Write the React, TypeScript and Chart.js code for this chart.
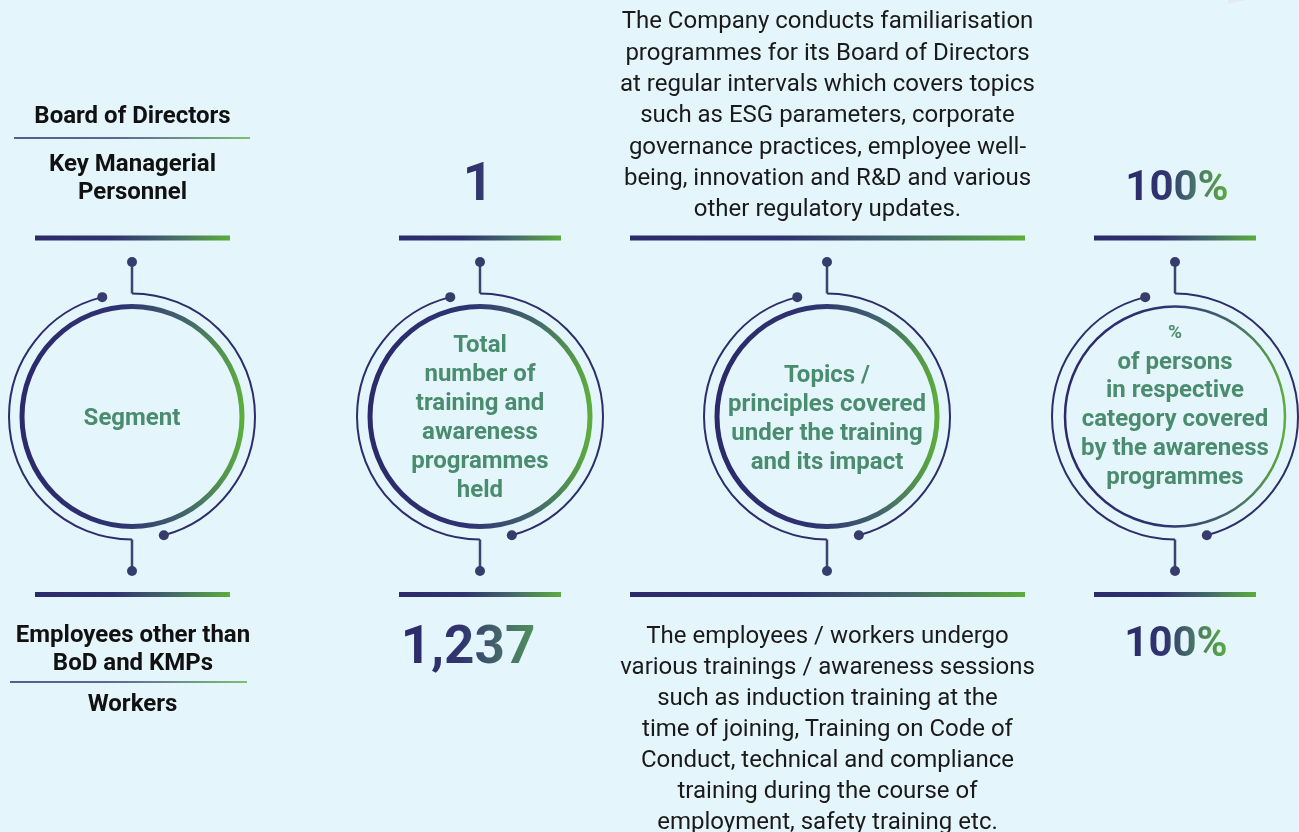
import React, { useEffect, useRef } from "react";
import { Chart, registerables } from "chart.js";

Chart.register(...registerables);

// ---------- data ----------
const segmentTop = ["Board of Directors", "Key Managerial\nPersonnel"];
const segmentBottom = ["Employees other than\nBoD and KMPs", "Workers"];
const columnTitles = [
  "Segment",
  "Total\nnumber of\ntraining and\nawareness\nprogrammes\nheld",
  "Topics /\nprinciples covered\nunder the training\nand its impact",
  "%\nof persons\nin respective\ncategory covered\nby the awareness\nprogrammes",
];
const programmesHeld = ["1", "1,237"];
const topicsCovered = [
  "The Company conducts familiarisation\nprogrammes for its Board of Directors\nat regular intervals which covers topics\nsuch as ESG parameters, corporate\ngovernance practices, employee well-\nbeing, innovation and R&D and various\nother regulatory updates.",
  "The employees / workers undergo\nvarious trainings / awareness sessions\nsuch as induction training at the\ntime of joining, Training on Code of\nConduct, technical and compliance\ntraining during the course of\nemployment, safety training etc.",
];
const personsCovered = ["100%", "100%"];

// ---------- layout / style ----------
const W = 1299;
const H = 832;
const BG = "#e5f5fc";
const NAVY = "#2b2a6b";
const GREEN = "#5cad3c";
const DOT = "#363d6d";
const CONNECTOR = "#3b4570";
const RING_OUT = "#2d2d6c";
const LABEL_GREEN = "#4a8c6e";
const FONT = "Roboto, 'Noto Sans', sans-serif";

const COLS = [132, 480, 827, 1175];
const CY = 416.5;
const R_OUT = 123;
const R_IN = 110;
const RING_IN_WIDTH = [5, 5, 5, 2.5];
const BAR_TOP_Y = 238;
const BAR_BOT_Y = 594.5;
const BAR_SPANS = [
  [35, 230],
  [399, 561],
  [630, 1025],
  [1094, 1256],
];
const THIN_LINES = [
  [14, 250, 138],
  [10, 247, 682],
];
const DOT_TOP_Y = 262;
const DOT_BOT_Y = 571;
const ANG_TL = 256;
const ANG_BR = 75;

const BAR_STOPS: [number, string][] = [
  [0, NAVY],
  [0.4, "#30336f"],
  [0.7, "#44696a"],
  [1, GREEN],
];
const RING_STOPS: [number, string][] = [
  [0, NAVY],
  [0.45, "#2f3372"],
  [0.75, "#42676b"],
  [1, GREEN],
];

const rad = (d: number) => (d * Math.PI) / 180;

function hGrad(chart: any, x0: number, x1: number, stops: [number, string][]) {
  const xs = chart.scales && chart.scales.x;
  if (!xs) return NAVY;
  const p0 = xs.getPixelForValue(x0);
  const p1 = xs.getPixelForValue(x1);
  if (!isFinite(p0) || !isFinite(p1) || p0 === p1) return NAVY;
  const g = chart.ctx.createLinearGradient(p0, 0, p1, 0);
  stops.forEach(([o, c]) => g.addColorStop(o, c));
  return g;
}

const lineGradColor = (stops: [number, string][]) => (ctx: any) => {
  const d = ctx.dataset.data;
  return hGrad(ctx.chart, d[0].x, d[1].x, stops);
};

const outerRingsPlugin = {
  id: "outerRings",
  beforeDatasetsDraw(chart: any) {
    const { ctx, scales } = chart;
    const x = scales.x;
    const y = scales.y;
    ctx.save();
    ctx.strokeStyle = RING_OUT;
    ctx.lineWidth = 2;
    COLS.forEach((cx) => {
      const px = x.getPixelForValue(cx);
      const py = y.getPixelForValue(CY);
      const r = x.getPixelForValue(cx + R_OUT) - px;
      ctx.beginPath();
      ctx.arc(px, py, r, -Math.PI / 2, rad(ANG_BR));
      ctx.stroke();
      ctx.beginPath();
      ctx.arc(px, py, r, Math.PI / 2, rad(ANG_TL));
      ctx.stroke();
    });
    // faint corner sliver at the top right
    ctx.fillStyle = "#e4e9f6";
    ctx.beginPath();
    ctx.moveTo(x.getPixelForValue(1228), y.getPixelForValue(0));
    ctx.lineTo(x.getPixelForValue(1246), y.getPixelForValue(0));
    ctx.lineTo(x.getPixelForValue(1228), y.getPixelForValue(4));
    ctx.closePath();
    ctx.fill();
    ctx.restore();
  },
};

function buildDatasets() {
  const ds: any[] = [];
  // dots
  const dots: { x: number; y: number }[] = [];
  COLS.forEach((cx) => {
    dots.push({ x: cx, y: DOT_TOP_Y });
    dots.push({ x: cx, y: DOT_BOT_Y });
    dots.push({ x: cx + R_OUT * Math.cos(rad(ANG_TL)), y: CY + R_OUT * Math.sin(rad(ANG_TL)) });
    dots.push({ x: cx + R_OUT * Math.cos(rad(ANG_BR)), y: CY + R_OUT * Math.sin(rad(ANG_BR)) });
  });
  ds.push({
    data: dots,
    pointRadius: 5,
    pointBackgroundColor: DOT,
    pointBorderWidth: 0,
    showLine: false,
    order: 0,
  });
  // connectors
  COLS.forEach((cx) => {
    ds.push({
      data: [
        { x: cx, y: DOT_TOP_Y },
        { x: cx, y: CY - R_OUT },
      ],
      showLine: true,
      borderColor: CONNECTOR,
      borderWidth: 2.5,
      pointRadius: 0,
      order: 1,
    });
    ds.push({
      data: [
        { x: cx, y: CY + R_OUT },
        { x: cx, y: DOT_BOT_Y },
      ],
      showLine: true,
      borderColor: CONNECTOR,
      borderWidth: 2.5,
      pointRadius: 0,
      order: 1,
    });
  });
  // bars
  BAR_SPANS.forEach(([x0, x1]) => {
    [BAR_TOP_Y, BAR_BOT_Y].forEach((yy) => {
      ds.push({
        data: [
          { x: x0, y: yy },
          { x: x1, y: yy },
        ],
        showLine: true,
        borderColor: lineGradColor(BAR_STOPS),
        borderWidth: 5,
        borderCapStyle: "butt",
        pointRadius: 0,
        order: 2,
      });
    });
  });
  THIN_LINES.forEach(([x0, x1, yy]) => {
    ds.push({
      data: [
        { x: x0, y: yy },
        { x: x1, y: yy },
      ],
      showLine: true,
      borderColor: lineGradColor(BAR_STOPS),
      borderWidth: 1.5,
      pointRadius: 0,
      order: 2,
    });
  });
  // inner rings
  ds.push({
    data: COLS.map((cx) => ({ x: cx, y: CY })),
    showLine: false,
    pointRadius: R_IN,
    pointBackgroundColor: "rgba(0,0,0,0)",
    pointBorderWidth: RING_IN_WIDTH,
    pointBorderColor: (ctx: any) => {
      const raw = ctx.raw;
      if (!raw) return NAVY;
      return hGrad(ctx.chart, raw.x - R_IN, raw.x + R_IN, RING_STOPS);
    },
    order: 3,
  });
  return ds;
}

function ChartCanvas() {
  const ref = useRef<HTMLCanvasElement | null>(null);
  useEffect(() => {
    if (!ref.current) return;
    const chart = new Chart(ref.current, {
      type: "scatter",
      data: { datasets: buildDatasets() },
      options: {
        animation: false,
        responsive: false,
        maintainAspectRatio: false,
        devicePixelRatio: 1,
        events: [],
        layout: { padding: 0, autoPadding: false },
        plugins: { legend: { display: false }, tooltip: { enabled: false } },
        datasets: { scatter: { clip: false } as any },
        scales: {
          x: { type: "linear", min: 0, max: W, display: false },
          y: { type: "linear", min: 0, max: H, reverse: true, display: false },
        },
      } as any,
      plugins: [outerRingsPlugin],
    });
    chart.update("none");
    return () => chart.destroy();
  }, []);
  return (
    <canvas
      ref={ref}
      width={W}
      height={H}
      style={{ position: "absolute", left: 0, top: 0, width: W, height: H }}
    />
  );
}

type TBProps = {
  cx: number;
  cy: number; // center of first line
  text: string;
  size: number;
  lh: number;
  weight?: number;
  color?: string;
  width?: number;
  gradient?: string;
};

function TextBlock({ cx, cy, text, size, lh, weight = 400, color = "#1a1a1a", width = 480, gradient }: TBProps) {
  const style: React.CSSProperties = {
    position: "absolute",
    left: cx - width / 2,
    top: cy - lh / 2,
    width,
    textAlign: "center",
    fontFamily: FONT,
    fontSize: size,
    lineHeight: lh + "px",
    fontWeight: weight,
    color,
    whiteSpace: "pre-line",
    margin: 0,
  };
  if (gradient) {
    return (
      <div style={style}>
        <span
          style={{
            display: "inline-block",
            backgroundImage: gradient,
            WebkitBackgroundClip: "text",
            backgroundClip: "text",
            color: "transparent",
            WebkitTextFillColor: "transparent",
          }}
        >
          {text}
        </span>
      </div>
    );
  }
  return <div style={style}>{text}</div>;
}

const NUM_GRAD = `linear-gradient(90deg, ${NAVY} 0%, #31356f 45%, #476f68 78%, #4f8f5c 100%)`;
const PCT_GRAD = `linear-gradient(90deg, ${NAVY} 0%, #30346f 40%, #46706a 65%, ${GREEN} 100%)`;
const ONE_GRAD = `linear-gradient(90deg, ${NAVY} 0%, #343a70 70%, #4a6276 100%)`;

export default function App() {
  return (
    <div
      style={{
        position: "absolute",
        left: 0,
        top: 0,
        width: W,
        height: H,
        background: BG,
        overflow: "hidden",
        fontFamily: FONT,
      }}
    >
      <ChartCanvas />
      {/* segment column */}
      <TextBlock cx={132.5} cy={115} text={segmentTop[0]} size={24} lh={28} weight={700} color="#111" width={270} />
      <TextBlock cx={132.5} cy={163} text={segmentTop[1]} size={24} lh={28} weight={700} color="#111" width={270} />
      <TextBlock cx={133} cy={634} text={segmentBottom[0]} size={24} lh={28} weight={700} color="#111" width={270} />
      <TextBlock cx={132.5} cy={703} text={segmentBottom[1]} size={24} lh={28} weight={700} color="#111" width={270} />

      {/* circle titles */}
      <TextBlock cx={COLS[0]} cy={417} text={columnTitles[0]} size={24} lh={29} weight={700} color={LABEL_GREEN} width={230} />
      <TextBlock cx={COLS[1]} cy={344} text={columnTitles[1]} size={24} lh={29} weight={700} color={LABEL_GREEN} width={230} />
      <TextBlock cx={COLS[2]} cy={374} text={columnTitles[2]} size={24} lh={29} weight={700} color={LABEL_GREEN} width={240} />
      <TextBlock cx={COLS[3]} cy={331} text={"%"} size={19} lh={29} weight={700} color={LABEL_GREEN} width={240} />
      <TextBlock cx={COLS[3]} cy={361} text={columnTitles[3].split("\n").slice(1).join("\n")} size={24} lh={28.75} weight={700} color={LABEL_GREEN} width={240} />

      {/* programmes held */}
      <TextBlock cx={478} cy={182} text={programmesHeld[0]} size={53} lh={60} weight={700} width={200} gradient={ONE_GRAD} />
      <TextBlock cx={468} cy={645} text={programmesHeld[1]} size={53} lh={60} weight={700} width={200} gradient={NUM_GRAD} />

      {/* topics */}
      <TextBlock cx={827.5} cy={21} text={topicsCovered[0]} size={24} lh={31.3} width={480} />
      <TextBlock cx={827.5} cy={635} text={topicsCovered[1]} size={24} lh={31} width={480} />

      {/* persons covered */}
      <TextBlock cx={1177} cy={186} text={personsCovered[0]} size={42} lh={52} weight={700} width={200} gradient={PCT_GRAD} />
      <TextBlock cx={1176} cy={642} text={personsCovered[1]} size={42} lh={52} weight={700} width={200} gradient={PCT_GRAD} />
    </div>
  );
}
